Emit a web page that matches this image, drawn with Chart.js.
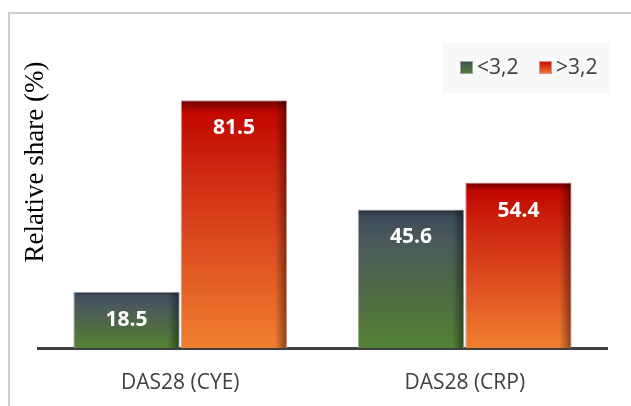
<!DOCTYPE html>
<html>
<head>
<meta charset="utf-8">
<script src="https://cdn.jsdelivr.net/npm/chart.js@4"></script>
<style>
  body { margin: 0; background: #fff; }
  #wrap { position: relative; width: 631px; height: 406px; overflow: hidden; }
  #frame { position: absolute; left: 8px; top: 12px; width: 700px; height: 500px;
           border-left: 2px solid #cfcfcf; border-top: 2px solid #cfcfcf; }
  canvas { position: absolute; left: 0; top: 0; }
</style>
</head>
<body>
<div id="wrap">
  <div id="frame"></div>
  <canvas id="shareChart" width="631" height="406"></canvas>
</div>
<script>
// kategori dan nilai
const categories = ['DAS28 (CYE)', 'DAS28 (CRP)'];
const seriesLabels = ['<3,2', '>3,2'];
const lowValues = [18.5, 45.6];
const highValues = [81.5, 54.4];

// warna gradasi per seri (atas -> bawah)
const gradStops = [
  [[0, '#27303c'], [0.06, '#3e4d5a'], [0.25, '#4a5a5c'], [0.6, '#4f6a45'], [1, '#538234']],
  [[0, '#6e0000'], [0.05, '#c20800'], [0.3, '#cf2a12'], [0.7, '#e25a24'], [1, '#ef7f31']]
];
const edgeColors = ['#9aa3a8', '#d99090'];

function barGradient(ctx, dsIndex) {
  const chart = ctx.chart;
  const y = chart.scales.y;
  if (!chart.chartArea || !y || ctx.raw === undefined) return gradStops[dsIndex][2][1];
  const top = y.getPixelForValue(ctx.raw), bot = y.getPixelForValue(0);
  if (!isFinite(top) || !isFinite(bot)) return gradStops[dsIndex][2][1];
  const g = chart.ctx.createLinearGradient(0, top, 0, bot);
  gradStops[dsIndex].forEach(s => g.addColorStop(s[0], s[1]));
  return g;
}

// bayangan di sisi kanan batang + label nilai
const barExtras = {
  id: 'barExtras',
  afterDatasetsDraw(chart) {
    const c = chart.ctx;
    chart.data.datasets.forEach((ds, i) => {
      chart.getDatasetMeta(i).data.forEach((bar, j) => {
        const right = bar.x + bar.width / 2;
        const top = bar.y, bot = bar.base;
        const sg = c.createLinearGradient(right - 12, 0, right, 0);
        sg.addColorStop(0, 'rgba(0,0,0,0)');
        sg.addColorStop(1, 'rgba(0,0,0,0.45)');
        c.save();
        c.fillStyle = sg;
        c.fillRect(right - 12, top + 1, 11, bot - top - 1);
        c.fillStyle = '#ffffff';
        c.font = 'bold 21px "Open Sans"';
        c.textAlign = 'center';
        c.textBaseline = 'middle';
        c.fillText(ds.data[j].toFixed(1), bar.x, top + 28);
        c.restore();
      });
    });
  }
};

// legenda dan judul sumbu y
const decor = {
  id: 'decor',
  afterDraw(chart) {
    const c = chart.ctx;
    c.save();
    c.fillStyle = '#f8f8f8';
    c.fillRect(443, 43, 166, 50);
    c.font = '21px "Open Sans"';
    c.textBaseline = 'middle';
    let x = 460;
    chart.data.datasets.forEach((ds, i) => {
      const g = c.createLinearGradient(0, 61, 0, 74);
      g.addColorStop(0, gradStops[i][1][1]);
      g.addColorStop(1, gradStops[i][4][1]);
      c.fillStyle = g;
      c.fillRect(x, 61, 13, 13);
      c.strokeStyle = edgeColors[i];
      c.lineWidth = 1;
      c.strokeRect(x + 0.5, 61.5, 12, 12);
      c.fillStyle = '#404040';
      c.textAlign = 'left';
      c.fillText(ds.label, x + 17, 68);
      x += 79;
    });
    c.translate(36, 162);
    c.rotate(-Math.PI / 2);
    c.font = '27px "Liberation Serif"';
    c.fillStyle = '#000';
    c.textAlign = 'center';
    c.textBaseline = 'middle';
    c.fillText('Relative share (%)', 0, 0);
    c.restore();
  }
};

const ctx = document.getElementById('shareChart').getContext('2d');
new Chart(ctx, {
  type: 'bar',
  data: {
    labels: categories,
    datasets: [
      { label: seriesLabels[0], data: lowValues,
        backgroundColor: c => barGradient(c, 0), borderColor: edgeColors[0], borderWidth: 1 },
      { label: seriesLabels[1], data: highValues,
        backgroundColor: c => barGradient(c, 1), borderColor: edgeColors[1], borderWidth: 1 }
    ]
  },
  options: {
    responsive: false,
    animation: false,
    layout: { padding: { left: 38, right: 24, top: 44, bottom: 14 } },
    datasets: { bar: { categoryPercentage: 0.755, barPercentage: 0.99 } },
    plugins: { legend: { display: false }, tooltip: { enabled: false } },
    scales: {
      x: {
        grid: { display: false },
        border: { display: true, color: '#404040', width: 3 },
        ticks: { color: '#404040', font: { family: 'Open Sans', size: 21 }, padding: 14 },
        afterFit: s => { s.height = 44; }
      },
      y: { display: false, min: 0, max: 100 }
    }
  },
  plugins: [barExtras, decor]
});
</script>
</body>
</html>
